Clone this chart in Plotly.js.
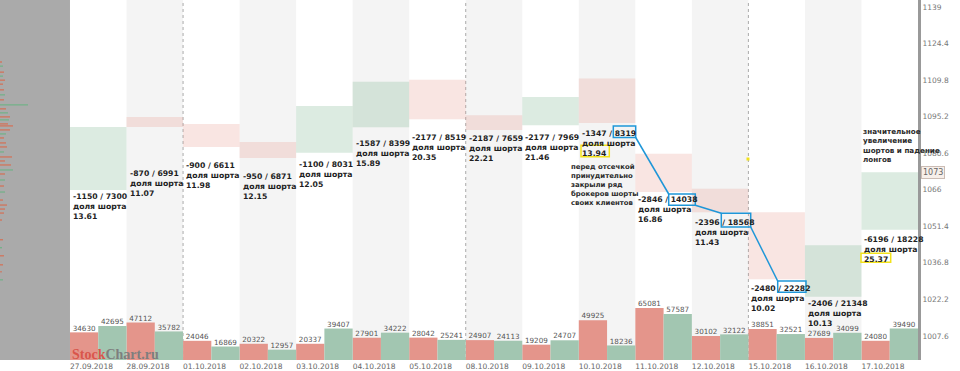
<!DOCTYPE html>
<html>
<head>
<meta charset="utf-8">
<script src="https://cdn.plot.ly/plotly-3.0.1.min.js"></script>
<style>html,body{margin:0;padding:0;background:#fff;}#chart{width:960px;height:371px;}</style>
</head>
<body>
<div id="chart"></div>
<script>
// ---------- data ----------
const dates = ['27.09.2018','28.09.2018','01.10.2018','02.10.2018','03.10.2018','04.10.2018','05.10.2018','08.10.2018','09.10.2018','10.10.2018','11.10.2018','12.10.2018','15.10.2018','16.10.2018','17.10.2018'];
const openP  = [1065.9, 1095.1, 1092.3, 1085.1, 1080.8, 1091.0, 1109.9, 1095.8, 1091.8, 1110.4, 1080.4, 1066.4, 1057.0, 1023.3, 1050.0];
const closeP = [1091.1, 1091.1, 1083.1, 1078.7, 1099.5, 1109.1, 1094.2, 1089.9, 1103.1, 1092.7, 1065.1, 1057.0, 1030.3, 1043.8, 1073.0];
const sellVol = [34630, 47112, 24046, 20322, 20337, 27901, 28042, 24907, 19209, 49925, 65081, 30102, 38851, 27689, 24080];
const buyVol  = [42695, 35782, 16869, 12957, 39407, 34222, 25241, 24113, 24707, 18236, 57587, 32122, 32521, 34099, 39490];
const deltas = ['-1150','-870','-900','-950','-1100','-1587','-2177','-2187','-2177','-1347','-2846','-2396','-2480','-2406','-6196'];
const totals = ['7300','6991','6611','6871','8031','8399','8519','7659','7969','8319','14038','18568','22282','21348','18228'];
const shares = ['13.61','11.07','11.98','12.15','12.05','15.89','20.35','22.21','21.46','13.94','16.86','11.43','10.02','10.13','25.37'];
const priceTicks = [1007.6, 1022.2, 1036.8, 1051.4, 1066, 1080.6, 1095.2, 1109.8, 1124.4, 1139];
const priceTickText = ['1007.6','1022.2','1036.8','1051.4','1066','1080.6','1095.2','1109.8','1124.4','1139'];
const lastPrice = 1073;
// volume profile of earlier history (left grey zone)
const profRedP = [1117.0,1113.0,1109.8,1108.2,1105.9,1101.9,1098.3,1095.1,1092.3,1091.5,1089.9,1086.7,1084.7,1083.1,1079.1,1077.5,1075.9,1072.3,1067.5,1061.9,1059.9,1058.3,1056.7,1053.9,1046.0,1039.6,1036.0,1033.2];
const profRedV = [2,4,5,3,4,4,6,10,8,13,10,4,6,7,12,5,11,5,4,3,7,5,4,2,3,4,3,2];
const profGrnP = [1115.4,1111.4,1103.9,1099.9,1096.7,1093.9,1088.3,1081.1,1073.9,1069.9,1065.1,1042.8,1030.0];
const profGrnV = [3,3,5,28,8,9,6,4,13,5,5,2,3];
const note1 = 'перед отсечкой<br>принудительно<br>закрыли ряд<br>брокеров шорты<br>своих клиентов';
const note2 = 'значительное<br>увеличение<br>шортов и падение<br>лонгов';

// ---------- layout constants ----------
const W = 960, H = 371, ML = 0, MR = 42, MT = 0, MB = 11;
const PW = W - ML - MR, PH = H - MT - MB;
const xMin = -1.738, xMax = 14.5;
const labelTop = [190,167,159,170,158,137,131,132,131,127,193,216,282,297,233]; // px from top
const px = v => v / PW, py = v => 1 - v / PH;

const idx = dates.map((d, i) => i);
const GREEN = 'rgba(150,195,165,0.33)', RED = 'rgba(230,150,140,0.25)';
const volFont = {family: 'DejaVu Sans', size: 7.2, color: '#555'};

const traces = [];
traces.push({
  type: 'bar', x: idx, base: idx.map(i => Math.min(openP[i], closeP[i])),
  y: idx.map(i => Math.abs(closeP[i] - openP[i])), width: 1,
  marker: {color: idx.map(i => closeP[i] >= openP[i] ? GREEN : RED), line: {width: 0}},
  hoverinfo: 'skip', xaxis: 'x', yaxis: 'y', showlegend: false
});
traces.push({
  type: 'bar', x: idx.map(i => i - 0.25), y: sellVol, width: 0.5,
  marker: {color: '#e4958b', line: {width: 0}},
  hoverinfo: 'skip', xaxis: 'x', yaxis: 'y2', showlegend: false
});
traces.push({
  type: 'bar', x: idx.map(i => i + 0.25), y: buyVol, width: 0.5,
  marker: {color: '#a2c6b1', line: {width: 0}},
  hoverinfo: 'skip', xaxis: 'x', yaxis: 'y2', showlegend: false
});
traces.push({
  type: 'scatter', mode: 'text', x: idx.map(i => i - 0.25), y: sellVol, text: sellVol.map(String),
  textposition: 'top center', textfont: volFont, cliponaxis: false, marker: {size: 1},
  hoverinfo: 'skip', xaxis: 'x', yaxis: 'y2', showlegend: false
});
traces.push({
  type: 'scatter', mode: 'text', x: idx.map(i => i + 0.25), y: buyVol, text: buyVol.map(String),
  textposition: 'top center', textfont: volFont, cliponaxis: false, marker: {size: 1},
  hoverinfo: 'skip', xaxis: 'x', yaxis: 'y2', showlegend: false
});
traces.push({
  type: 'bar', orientation: 'h', y: profRedP, x: profRedV, width: 0.38,
  marker: {color: '#e0603e', line: {width: 0}}, hoverinfo: 'skip', xaxis: 'x2', yaxis: 'y', showlegend: false
});
traces.push({
  type: 'bar', orientation: 'h', y: profGrnP, x: profGrnV, width: 0.38,
  marker: {color: '#62b47e', line: {width: 0}}, hoverinfo: 'skip', xaxis: 'x2', yaxis: 'y', showlegend: false
});

// ---------- shapes ----------
const shapes = [];
shapes.push({type: 'rect', xref: 'x', yref: 'paper', x0: xMin, x1: -0.5, y0: 0, y1: 1, fillcolor: '#aaaaaa', line: {width: 0}, layer: 'below'});
idx.forEach(i => {
  if (i % 2 === 1) shapes.push({type: 'rect', xref: 'x', yref: 'paper', x0: i - 0.5, x1: i + 0.5, y0: 0, y1: 1, fillcolor: '#f4f4f4', line: {width: 0}, layer: 'below'});
});
const toDate = s => { const [d, m, y] = s.split('.').map(Number); return new Date(y, m - 1, d); };
idx.forEach(i => {
  if (i > 0 && (toDate(dates[i]) - toDate(dates[i - 1])) / 86400000 > 1)
    shapes.push({type: 'line', xref: 'x', yref: 'paper', x0: i - 0.5, x1: i - 0.5, y0: 0, y1: 1, line: {color: '#aaa', width: 1, dash: 'dot'}, layer: 'below'});
});
const BLUE = '#1e96d8', YEL = '#f2e21a';
const blueBoxes = [[613.3,126,635.7,137.5],[668.7,194,695.3,205.3],[721.3,213.3,750.7,227],[777.7,281,806,292.3]];
blueBoxes.forEach(b => shapes.push({type: 'rect', xref: 'paper', yref: 'paper', x0: px(b[0]), x1: px(b[2]), y0: py(b[3]), y1: py(b[1]), line: {color: BLUE, width: 1.5}, fillcolor: 'rgba(0,0,0,0)'}));
for (let k = 0; k < blueBoxes.length - 1; k++) {
  const a = blueBoxes[k], b = blueBoxes[k + 1];
  shapes.push({type: 'line', xref: 'paper', yref: 'paper', x0: px(a[2]), y0: py(a[3]), x1: px(b[0]), y1: py(b[1]), line: {color: BLUE, width: 1.5}});
}
const yelBoxes = [[581,145.3,609.3,156.7],[861,253.3,890.7,262.3]];
yelBoxes.forEach(b => shapes.push({type: 'rect', xref: 'paper', yref: 'paper', x0: px(b[0]), x1: px(b[2]), y0: py(b[3]), y1: py(b[1]), line: {color: YEL, width: 1.5}, fillcolor: 'rgba(0,0,0,0)'}));
shapes.push({type: 'rect', xref: 'paper', yref: 'paper', x0: px(746.5), x1: px(749.5), y0: py(160.5), y1: py(157.5), fillcolor: YEL, line: {width: 0}});

// ---------- annotations ----------
const annotations = [];
idx.forEach(i => {
  annotations.push({
    xref: 'x', yref: 'paper', x: i - 0.5, y: py(labelTop[i]), xanchor: 'left', yanchor: 'top', xshift: 1,
    align: 'left', showarrow: false,
    text: '<b>' + deltas[i] + ' / ' + totals[i] + '<br>доля шорта<br>' + shares[i] + '</b>',
    font: {family: 'DejaVu Sans', size: 7.7, color: '#1e1e1e'}
  });
});
annotations.push({xref: 'paper', yref: 'paper', x: px(569), y: py(161), xanchor: 'left', yanchor: 'top', align: 'left', showarrow: false,
  text: '<b>' + note1 + '</b>', font: {family: 'DejaVu Sans', size: 6.9, color: '#2a2a2a'}});
annotations.push({xref: 'paper', yref: 'paper', x: px(861), y: py(125), xanchor: 'left', yanchor: 'top', align: 'left', showarrow: false,
  text: '<b>' + note2 + '</b>', font: {family: 'DejaVu Sans', size: 7.2, color: '#2a2a2a'}});
annotations.push({xref: 'paper', yref: 'y', x: 1, y: lastPrice, xanchor: 'left', yanchor: 'middle', xshift: 3, showarrow: false,
  text: String(lastPrice), bgcolor: '#f7efea', bordercolor: '#cbbcb4', borderwidth: 1, borderpad: 1,
  font: {family: 'DejaVu Sans', size: 8, color: '#666'}});
annotations.push({xref: 'paper', yref: 'paper', x: px(70), y: py(354), xanchor: 'left', yanchor: 'middle', showarrow: false,
  text: '<b><span style="color:#d9554b">Stock</span><span style="color:#7e7e7e">Chart.ru</span></b>',
  font: {family: 'Liberation Serif', size: 14}});

const layout = {
  width: W, height: H, margin: {l: ML, r: MR, t: MT, b: MB, pad: 0},
  paper_bgcolor: '#fff', plot_bgcolor: '#fff', barmode: 'overlay', showlegend: false,
  xaxis: {range: [xMin, xMax], showgrid: false, zeroline: false, showline: false, ticks: '',
    tickvals: idx.map(i => i - 0.5), ticktext: dates, ticklabelposition: 'outside right',
    tickfont: {family: 'DejaVu Sans', size: 7.5, color: '#666'}, automargin: false, fixedrange: true},
  xaxis2: {overlaying: 'x', range: [0, PW], visible: false, anchor: 'y'},
  yaxis: {range: [998.0, 1141.8], side: 'right', showgrid: false, zeroline: false, showline: true,
    linecolor: '#999', linewidth: 3, ticks: '', tickvals: priceTicks, ticktext: priceTickText,
    tickfont: {family: 'DejaVu Sans', size: 7.5, color: '#777'}, automargin: false},
  yaxis2: {overlaying: 'y', range: [0, 451000], visible: false},
  shapes: shapes, annotations: annotations, font: {family: 'DejaVu Sans'}
};
Plotly.newPlot('chart', traces, layout, {staticPlot: true, displayModeBar: false});
</script>
</body>
</html>
